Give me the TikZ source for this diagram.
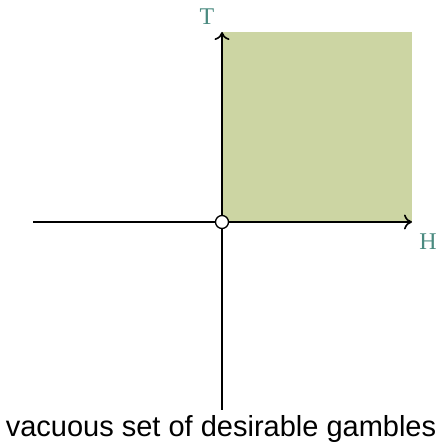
\documentclass[tikz,border=0pt]{standalone}
\usetikzlibrary{arrows.meta}
\usepackage{fontspec}
\newfontfamily\capfont{Liberation Sans}
\newfontfamily\labfont{Liberation Serif}
\definecolor{sqgreen}{HTML}{CCD5A3}
\definecolor{labteal}{HTML}{4A8A80}
\newcommand{\axfont}{\labfont\fontsize{24}{24}\selectfont}
\newcommand{\cfont}{\capfont\fontsize{29}{29}\selectfont}
\begin{document}
\begin{tikzpicture}[x=1pt,y=1pt,
  axis/.style={line width=1.6pt,-{Computer Modern Rightarrow[length=8pt,width=15pt,line width=1.6pt]}},
  axlabel/.style={text=labteal,font=\axfont},
  origin/.style={circle,draw=black,fill=white,line width=1.3pt,minimum size=13pt,inner sep=0pt}]
\useasboundingbox (0,0) rectangle (439,445);
\fill[sqgreen] (222,223) rectangle (412,413);
\coordinate (xl) at (33,223);
\coordinate (xr) at (412,223);
\coordinate (yb) at (222,35);
\coordinate (yt) at (222,413);
\draw[axis] (xl) -- (xr);
\draw[axis] (yb) -- (yt);
\node[origin] (o) at (222,223) {};
\node[axlabel] (T) at (207,428) {T};
\node[axlabel] (H) at (428,203) {H};
\node[font=\cfont] (cap) at (221,16) {vacuous set of desirable gambles};
\end{tikzpicture}
\end{document}
